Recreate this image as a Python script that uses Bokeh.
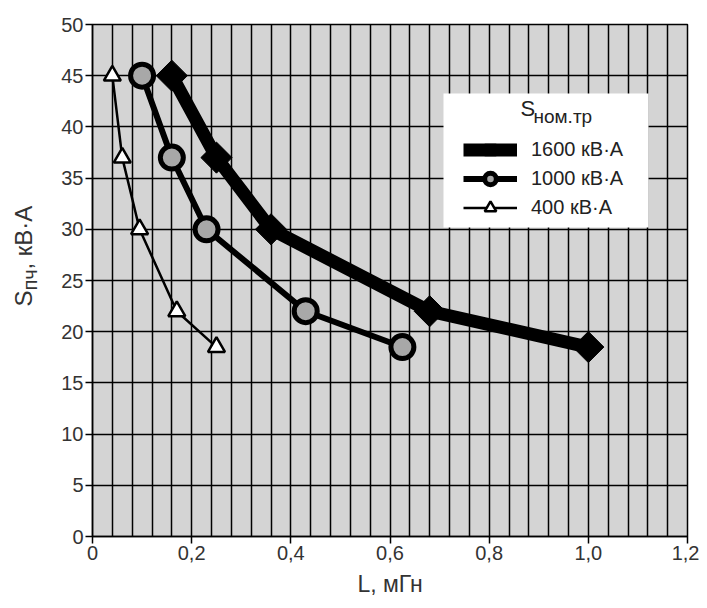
import math
from bokeh.plotting import figure
from bokeh.layouts import row
from bokeh.models import (FixedTicker, Legend, LegendItem, Label, BoxAnnotation, Range1d)
from bokeh.embed import file_html
from bokeh.resources import INLINE

# ---- data ----
L_1600 = [0.16, 0.25, 0.36, 0.68, 1.0]
S_1600 = [45, 37, 30, 22, 18.5]
L_1000 = [0.10, 0.16, 0.23, 0.43, 0.625]
S_1000 = [45, 37, 30, 22, 18.5]
L_400 = [0.04, 0.06, 0.095, 0.17, 0.25]
S_400 = [45, 37, 30, 22, 18.5]
series_labels = ["1600 кВ·А", "1000 кВ·А", "400 кВ·А"]

x_ticks = [0, 0.2, 0.4, 0.6, 0.8, 1.0, 1.2]
x_tick_labels = ["0", "0,2", "0,4", "0,6", "0,8", "1,0", "1,2"]
y_ticks = [0, 5, 10, 15, 20, 25, 30, 35, 40, 45, 50]
x_grid_step = 0.04

FONT = "Liberation Sans"
LEFT_W = 56

# ---- narrow left figure carrying the rotated y-axis title (with subscript) ----
pl = figure(width=LEFT_W, height=600, output_backend="svg", toolbar_location=None,
            x_range=Range1d(0, LEFT_W), y_range=Range1d(0, 600),
            min_border_left=0, min_border_right=0, min_border_top=0, min_border_bottom=0)
pl.axis.visible = False
pl.grid.grid_line_color = None
pl.outline_line_color = None
pl.background_fill_color = "white"
pl.border_fill_color = "white"
pl.add_layout(Label(x=36, y=230, x_units="screen", y_units="screen", text="S", angle=math.pi / 2,
                    text_font=FONT, text_font_size="24px", text_color="#333333"))
pl.add_layout(Label(x=40, y=246, x_units="screen", y_units="screen", text="пч", angle=math.pi / 2,
                    text_font=FONT, text_font_size="20px", text_color="#333333"))
pl.add_layout(Label(x=36, y=267, x_units="screen", y_units="screen", text=", кВ·А", angle=math.pi / 2,
                    text_font=FONT, text_font_size="24px", text_color="#333333"))

# ---- main chart ----
p = figure(width=699 - LEFT_W, height=600, output_backend="svg", toolbar_location=None,
           x_range=Range1d(0, 1.2), y_range=Range1d(0, 50),
           min_border_left=92 - LEFT_W, min_border_right=12, min_border_top=24, min_border_bottom=64)

p.background_fill_color = "#d4d4d4"
p.border_fill_color = "white"
p.outline_line_color = "black"
p.outline_line_width = 1.5

# grid
p.xgrid.ticker = FixedTicker(ticks=[round(i * x_grid_step, 4) for i in range(int(round(1.2 / x_grid_step)) + 1)])
p.ygrid.ticker = FixedTicker(ticks=y_ticks)
for g in (p.xgrid, p.ygrid):
    g.grid_line_color = "black"
    g.grid_line_width = 1.5
    g.grid_line_alpha = 1.0

# axes
p.xaxis.ticker = FixedTicker(ticks=x_ticks)
p.xaxis.major_label_overrides = dict(zip(x_ticks, x_tick_labels))
p.yaxis.ticker = FixedTicker(ticks=y_ticks)
for ax in (p.xaxis, p.yaxis):
    ax.axis_line_color = "black"
    ax.axis_line_width = 1.5
    ax.major_tick_line_color = "black"
    ax.major_tick_line_width = 1.5
    ax.major_tick_out = 7
    ax.major_tick_in = 0
    ax.minor_tick_line_color = None
    ax.major_label_text_font = FONT
    ax.major_label_text_font_size = "20px"
    ax.major_label_text_color = "#333333"
    ax.major_label_standoff = 2

p.xaxis.axis_label = "L, мГн"
p.xaxis.axis_label_text_font = FONT
p.xaxis.axis_label_text_font_size = "23px"
p.xaxis.axis_label_text_font_style = "normal"
p.xaxis.axis_label_text_color = "#333333"
p.xaxis.axis_label_standoff = 8

# series
l1 = p.line(L_1600, S_1600, line_color="black", line_width=13, line_join="round")
m1 = p.scatter(L_1600, S_1600, marker="square", angle=math.pi / 4, size=22,
               fill_color="black", line_color="black", line_width=1)
l2 = p.line(L_1000, S_1000, line_color="black", line_width=6, line_join="round")
m2 = p.scatter(L_1000, S_1000, marker="circle", size=23,
               fill_color="#a8a8a8", line_color="black", line_width=5)
l3 = p.line(L_400, S_400, line_color="black", line_width=2.5, line_join="round")
m3 = p.scatter(L_400, S_400, marker="triangle", size=17,
               fill_color="white", line_color="black", line_width=2.5)

# legend box (white)
box = BoxAnnotation(left=351, right=556, top=443, bottom=309,
                    left_units="screen", right_units="screen", top_units="screen", bottom_units="screen",
                    fill_color="white", fill_alpha=1.0, line_color=None, level="annotation")
p.add_layout(box)

legend = Legend(items=[LegendItem(label=series_labels[0], renderers=[l1, m1]),
                       LegendItem(label=series_labels[1], renderers=[l2, m2]),
                       LegendItem(label=series_labels[2], renderers=[l3, m3])],
                location=(371, 314), padding=0, margin=0, spacing=0,
                glyph_width=54, glyph_height=29, label_height=29, label_standoff=14,
                label_text_font=FONT, label_text_font_size="20px", label_text_color="#222222",
                background_fill_alpha=0, border_line_color=None)
p.add_layout(legend, "center")

p.add_layout(Label(x=428, y=416, x_units="screen", y_units="screen", text="S",
                   text_font=FONT, text_font_size="22px", text_color="#222222"))
p.add_layout(Label(x=441, y=410, x_units="screen", y_units="screen", text="ном.тр",
                   text_font=FONT, text_font_size="19px", text_color="#222222"))

layout = row(pl, p, spacing=0)
open("out.html", "w").write(file_html(layout, INLINE))
